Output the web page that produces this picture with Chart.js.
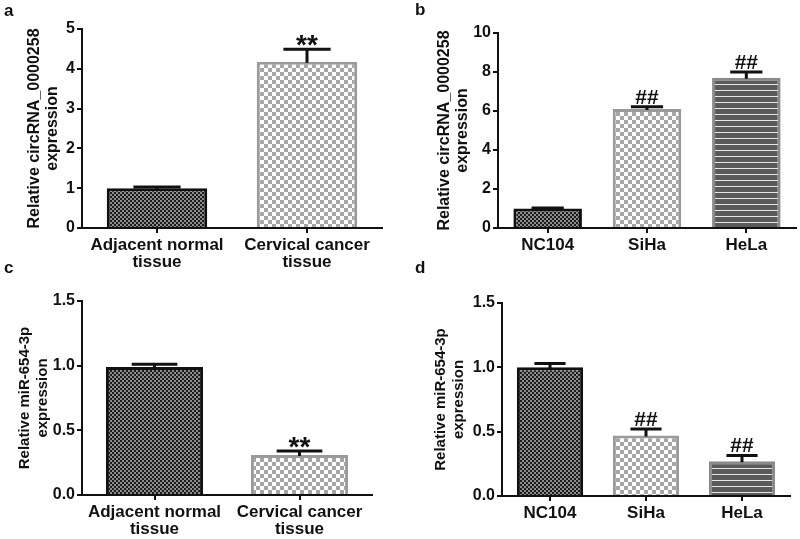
<!DOCTYPE html>
<html>
<head>
<meta charset="utf-8">
<script src="https://cdn.jsdelivr.net/npm/chart.js@4.4.0/dist/chart.umd.min.js"></script>
<style>
  html, body { margin: 0; padding: 0; background: #fff; }
  #wrap { position: relative; width: 800px; height: 539px; overflow: hidden; background: #fff; }
  .panel { position: absolute; }
  .tag { position: absolute; font: bold 17px Arial, "Liberation Sans", sans-serif; color: #111; z-index: 2; line-height: 1; }
</style>
</head>
<body>
<div id="wrap">
  <canvas id="chartA" class="panel" width="400" height="270" style="left:0;top:0"></canvas>
  <canvas id="chartB" class="panel" width="400" height="270" style="left:400px;top:0"></canvas>
  <canvas id="chartC" class="panel" width="400" height="269" style="left:0;top:270px"></canvas>
  <canvas id="chartD" class="panel" width="400" height="269" style="left:400px;top:270px"></canvas>
  <div class="tag" style="left:4px;top:2px">a</div>
  <div class="tag" style="left:415px;top:1px">b</div>
  <div class="tag" style="left:4px;top:259px">c</div>
  <div class="tag" style="left:415px;top:259px">d</div>
</div>
<script>
// ---------------- DATA ----------------
const tissueGroups = [["Adjacent normal", "tissue"], ["Cervical cancer", "tissue"]];
const cellGroups = ["NC104", "SiHa", "HeLa"];

const circTissue = [1.0, 4.18];
const circTissueErr = [0.03, 0.31];
const circCell = [1.0, 6.1, 7.7];
const circCellErr = [0.03, 0.12, 0.3];

const mirTissue = [0.99, 0.31];
const mirTissueErr = [0.02, 0.03];
const mirCell = [1.0, 0.47, 0.27];
const mirCellErr = [0.03, 0.05, 0.045];

const tissueMarks = ["", "**"];
const cellMarks = ["", "##", "##"];

const circTissueTicks = [0, 1, 2, 3, 4, 5];
const circCellTicks = [0, 2, 4, 6, 8, 10];
const mirTicks = [0.0, 0.5, 1.0, 1.5];

const circTitle = ["Relative circRNA_0000258", "expression"];
const mirTitle = ["Relative miR-654-3p", "expression"];

const FONT = 'Arial, "Liberation Sans", sans-serif';
const INK = "#111";

// ---------------- FILL PATTERNS ----------------
function checker(cell, a, b) {
    const c = document.createElement("canvas");
    c.width = c.height = cell * 2;
    const g = c.getContext("2d");
    g.fillStyle = a; g.fillRect(0, 0, cell * 2, cell * 2);
    g.fillStyle = b;
    g.fillRect(0, 0, cell, cell);
    g.fillRect(cell, cell, cell, cell);
    return g.createPattern(c, "repeat");
}

function stripes() {
    const c = document.createElement("canvas");
    c.width = 6; c.height = 6;
    const g = c.getContext("2d");
    g.fillStyle = "#5a5a5a"; g.fillRect(0, 0, 6, 6);
    g.fillStyle = "#e6e6e6"; g.fillRect(0, 0, 6, 1);
    return g.createPattern(c, "repeat");
}

const darkFill = checker(2, "#1c1c1c", "#8c8c8c");
const lightFill = checker(4, "#ffffff", "#a6a6a6");
const stripeFill = stripes();

// ---------------- ERROR BARS + MARKS ----------------
const errorBarPlugin = {
    id: "errorBars",
    afterDatasetsDraw(chart) {
        const ctx = chart.ctx;
        const yScale = chart.scales.y;
        const ds = chart.data.datasets[0];
        const meta = chart.getDatasetMeta(0);

        meta.data.forEach((bar, i) => {
            let top = yScale.getPixelForValue(ds.data[i] + ds.errors[i]);
            let half = bar.width * 0.235;

            ctx.save();
            ctx.strokeStyle = INK;
            ctx.lineWidth = 3;
            ctx.beginPath();
            ctx.moveTo(bar.x, bar.y + 1);
            ctx.lineTo(bar.x, top);
            ctx.moveTo(bar.x - half, top);
            ctx.lineTo(bar.x + half, top);
            ctx.stroke();

            let mark = ds.marks[i];
            if (mark) {
                let size = mark.indexOf("*") >= 0 ? 28 : 21;
                ctx.font = "bold " + size + "px " + FONT;
                ctx.fillStyle = INK;
                ctx.textAlign = "center";
                ctx.textBaseline = "alphabetic";
                let m = ctx.measureText(mark);
                let baseline = top - 3 - m.actualBoundingBoxDescent;
                ctx.fillText(mark, bar.x, baseline);
            }
            ctx.restore();
        });
    }
};

// ---------------- BUILD ONE PANEL ----------------
function buildPanel(cfg) {
    const ticks = cfg.ticks;
    return new Chart(document.getElementById(cfg.id), {
        type: "bar",
        data: {
            labels: cfg.labels,
            datasets: [{
                data: cfg.values,
                errors: cfg.errors,
                marks: cfg.marks,
                backgroundColor: cfg.fills,
                borderColor: cfg.borders,
                borderWidth: 3,
                barPercentage: cfg.barPct,
                categoryPercentage: 1
            }]
        },
        options: {
            responsive: false,
            animation: false,
            events: [],
            layout: { padding: { top: cfg.area.top, right: cfg.area.right, left: 0, bottom: 0 } },
            plugins: { legend: { display: false }, tooltip: { enabled: false } },
            scales: {
                x: {
                    offset: true,
                    grid: { display: true, drawOnChartArea: false, offset: false, drawTicks: true, tickLength: 5, color: INK, lineWidth: 2 },
                    border: { display: true, color: INK, width: 2 },
                    ticks: { color: INK, padding: 3, font: { family: FONT, size: 17, weight: "bold", lineHeight: 1.05 }, maxRotation: 0, autoSkip: false },
                    afterFit: (s) => { s.height = cfg.area.bottom; }
                },
                y: {
                    min: ticks[0],
                    max: ticks[ticks.length - 1],
                    afterBuildTicks: (s) => { s.ticks = ticks.map(v => ({ value: v })); },
                    grid: { display: true, drawOnChartArea: false, drawTicks: true, tickLength: 5, color: INK, lineWidth: 2 },
                    border: { display: true, color: INK, width: 2 },
                    ticks: {
                        color: INK, padding: 2,
                        font: { family: FONT, size: 16, weight: "bold" },
                        callback: (v) => Number(v).toFixed(cfg.decimals)
                    },
                    title: {
                        display: true, text: cfg.title, color: INK,
                        font: { family: FONT, size: cfg.titleSize, weight: "bold", lineHeight: cfg.titleLH },
                        padding: { top: cfg.titlePad, bottom: 0 }
                    },
                    afterFit: (s) => { s.width = cfg.area.left; }
                }
            }
        },
        plugins: [errorBarPlugin]
    });
}

// ---------------- PANELS ----------------
buildPanel({
    id: "chartA", labels: tissueGroups, values: circTissue, errors: circTissueErr, marks: tissueMarks,
    ticks: circTissueTicks, decimals: 0, title: circTitle, titleSize: 16, titleLH: 1.1, titlePad: 26,
    fills: [darkFill, lightFill], borders: [INK, "#9a9a9a"], barPct: 0.67,
    area: { left: 82, top: 29, right: 18, bottom: 42 }
});

buildPanel({
    id: "chartB", labels: cellGroups, values: circCell, errors: circCellErr, marks: cellMarks,
    ticks: circCellTicks, decimals: 0, title: circTitle, titleSize: 16, titleLH: 1.1, titlePad: 36,
    fills: [darkFill, lightFill, stripeFill], borders: [INK, "#9a9a9a", "#8a8a8a"], barPct: 0.69,
    area: { left: 98, top: 33, right: 4, bottom: 42 }
});

buildPanel({
    id: "chartC", labels: tissueGroups, values: mirTissue, errors: mirTissueErr, marks: tissueMarks,
    ticks: mirTicks, decimals: 1, title: mirTitle, titleSize: 15, titleLH: 1.2, titlePad: 16,
    fills: [darkFill, lightFill], borders: [INK, "#9a9a9a"], barPct: 0.67,
    area: { left: 82, top: 31, right: 28, bottom: 44 }
});

buildPanel({
    id: "chartD", labels: cellGroups, values: mirCell, errors: mirCellErr, marks: cellMarks,
    ticks: mirTicks, decimals: 1, title: mirTitle, titleSize: 15, titleLH: 1.25, titlePad: 31,
    fills: [darkFill, lightFill, stripeFill], borders: [INK, "#9a9a9a", "#8a8a8a"], barPct: 0.69,
    area: { left: 102, top: 33, right: 10, bottom: 43 }
});
</script>
</body>
</html>
